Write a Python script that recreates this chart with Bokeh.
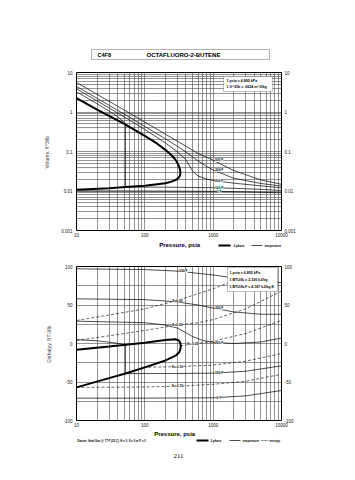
from bokeh.plotting import figure
from bokeh.layouts import column
from bokeh.models import FixedTicker, LogAxis, LinearAxis, Label, Range1d, BoxAnnotation
from bokeh.embed import file_html
from bokeh.resources import INLINE

# ---------------- data: top chart (volume vs pressure) ----------------
p_ticks = [10, 100, 1000, 10000]
p_tick_labels = ["10", "100", "1000", "10000"]
vol_ticks = [0.001, 0.01, 0.1, 1, 10]
vol_tick_labels = ["0.001", "0.01", "0.1", "1", "10"]

dome_v_p = [10, 20, 50, 100, 150, 200, 250, 280, 300, 318, 327, 331, 330, 326, 318, 305, 280, 240, 200, 100, 52, 30, 10]
dome_v_v = [2.25, 1.15, 0.50, 0.25, 0.16, 0.11, 0.078, 0.062, 0.051, 0.041, 0.035, 0.030, 0.027, 0.0245, 0.0225,
            0.0208, 0.0188, 0.0170, 0.0158, 0.0136, 0.0126, 0.0118, 0.0107]

iso_p = [10, 20, 50, 100, 200, 300, 400, 500, 600, 800, 1000, 2000, 5000, 10000]
t500_v = [5.6, 2.8, 1.12, 0.555, 0.275, 0.182, 0.136, 0.108, 0.089, 0.072, 0.060, 0.033, 0.019, 0.0148]
t300_v = [4.45, 2.22, 0.88, 0.43, 0.21, 0.135, 0.097, 0.073, 0.058, 0.042, 0.034, 0.021, 0.0155, 0.0133]
t200_v = [3.85, 1.91, 0.75, 0.36, 0.165, 0.098, 0.062, 0.032, 0.024, 0.020, 0.0185, 0.0158, 0.0135, 0.0120]
t100_p = [10, 20, 35, 52, 52, 200, 500, 1000, 2000, 5000, 10000]
t100_v = [3.25, 1.62, 0.90, 0.52, 0.0126, 0.0125, 0.0123, 0.0121, 0.0117, 0.0110, 0.0103]
t0_p = [10, 100, 1000, 3000, 10000]
t0_v = [0.0101, 0.0100, 0.0098, 0.0095, 0.0090]
top_iso_labels = ["500 F", "300 F", "200 F", "100 F", "0 F"]

# ---------------- data: bottom chart (enthalpy vs pressure) ----------------
h_ticks = [-100, -50, 0, 50, 100]
h_tick_labels = ["-100", "-50", "0", "50", "100"]

dome_h_p = [10, 30, 100, 200, 280, 315, 330, 335, 332, 320, 290, 250, 200, 100, 52, 30, 10]
dome_h_h = [-8, -4, 1, 4.5, 5.5, 4, 1, -3, -7, -11, -15, -18, -22, -31, -39, -45, -57]

h500_p = [10, 100, 300, 1000, 3000, 10000]
h500_h = [97, 96, 94, 89, 83, 79]
h300_p = [10, 100, 300, 600, 1000, 2000, 5000, 10000]
h300_h = [58, 57, 54, 50, 46, 41, 38, 38]
h200_p = [10, 100, 200, 300, 400, 500, 700, 1000, 2000, 5000, 10000]
h200_h = [29, 27, 24, 20, 14, 9, 4, 1.5, 0, 2, 7]
h100_p = [10, 20, 35, 52, 52, 300, 1000, 3000, 10000]
h100_h = [5, 3.5, 1, -1.5, -39, -39, -38.5, -36, -29]
h0_p = [10, 100, 1000, 3000, 10000]
h0_h = [-71, -71, -70.5, -68, -61]
bot_iso_labels = ["500 F", "300 F", "200 F", "100 F", "0 F"]

s005_p = [10, 30, 100, 300, 1000, 3000, 6000, 10000]
s005_h = [30, 37, 45, 56, 71, 88, 98, 107]
s000_p = [10, 30, 100, 300, 600, 1000, 3000, 10000]
s000_h = [4, 10, 17, 24, 27, 31, 45, 68]
sm005_p = [330, 500, 1000, 3000, 10000]
sm005_h = [-3, -1, 3, 13, 30]
sm010_p = [95, 300, 1000, 3000, 10000]
sm010_h = [-31, -30, -28, -23, -13]
sm015_p = [10, 100, 300, 1000, 3000, 10000]
sm015_h = [-57, -56.5, -55.5, -53, -49, -40]
s_labels = ["S=0.05", "S=0.00", "S=-0.05", "S=-0.10", "S=-0.15"]

# ---------------- styling helpers ----------------
FONT = "Liberation Sans"
GRID = "#4a4a4a"
W = 347
BL, BR = 76, 66          # left / right borders shared by every panel
FX0, FX1 = BL, W - BR    # frame extent in page pixels
xgrid_ticks = [m * 10 ** e for e in (1, 2, 3) for m in range(1, 10)] + [10000]
vgrid_ticks = [m * 10.0 ** e for e in (-3, -2, -1, 0) for m in range(1, 10)] + [10]
hgrid_ticks = [-75, -50, -25, 0, 25, 50, 75]


def style_axis(ax, ticks, labels, standoff=3):
    ax.ticker = FixedTicker(ticks=ticks)
    ax.major_label_overrides = dict(zip(ticks, labels))
    ax.major_label_text_font = FONT
    ax.major_label_text_font_size = "4.5px"
    ax.major_label_text_color = "#222222"
    ax.major_label_standoff = standoff
    ax.major_tick_line_color = None
    ax.major_tick_out = 0
    ax.major_tick_in = 0
    ax.minor_tick_line_color = None
    ax.minor_tick_out = 0
    ax.axis_line_color = None


def make_fig(height, y_type, y_range, mb_top, mb_bottom):
    p = figure(width=W, height=height, x_axis_type="log", y_axis_type=y_type,
               x_range=Range1d(10, 10000), y_range=y_range,
               output_backend="svg", toolbar_location=None,
               min_border_left=BL, min_border_right=BR,
               min_border_top=mb_top, min_border_bottom=mb_bottom)
    p.outline_line_color = "black"
    p.outline_line_width = 1
    p.background_fill_color = "white"
    p.border_fill_color = "white"
    p.xgrid.ticker = FixedTicker(ticks=xgrid_ticks)
    p.xgrid.grid_line_color = GRID
    p.xgrid.grid_line_width = 0.6
    p.ygrid.grid_line_color = GRID
    p.ygrid.grid_line_width = 0.6
    return p


def strip(height):
    # x data == page pixel column, y data == pixels from the strip bottom
    s = figure(width=W, height=height, x_range=Range1d(FX0, FX1), y_range=Range1d(0, height),
               output_backend="svg", toolbar_location=None,
               min_border_left=BL, min_border_right=BR, min_border_top=0, min_border_bottom=0)
    s.axis.visible = False
    s.grid.visible = False
    s.outline_line_color = None
    s.background_fill_color = "white"
    s.border_fill_color = "white"
    return s


def text(p, x, y, s, size="3.6px", bold=False, align="left", baseline="middle", units="data",
         bg=None, font=FONT, xo=0, yo=0):
    lab = Label(x=x, y=y, x_units=units, y_units=units, text=s, text_font=font,
                text_font_size=size, text_font_style="bold" if bold else "normal",
                text_align=align, text_baseline=baseline, text_color="black",
                x_offset=xo, y_offset=yo)
    if bg:
        lab.background_fill_color = bg
    p.add_layout(lab)


def box(p, l, r, b, t, units="data", lw=0.8):
    p.add_layout(BoxAnnotation(left=l, right=r, bottom=b, top=t,
                               left_units=units, right_units=units, top_units=units, bottom_units=units,
                               fill_color="white", fill_alpha=1, line_color="black", line_width=lw))


# ---------------- header strip (title box) ----------------
head = strip(64)
box(head, 91, 269, 5, 15, lw=1)
text(head, 97, 10, "C4F8", size="5.5px", bold=True)
text(head, 183, 10, "OCTAFLUORO-2-BUTENE", size="6px", bold=True, align="center")

# ---------------- top figure ----------------
top = make_fig(175, "log", Range1d(0.001, 10), 8, 8)
top.ygrid.ticker = FixedTicker(ticks=vgrid_ticks)
style_axis(top.xaxis[0], p_ticks, p_tick_labels, 2)
style_axis(top.yaxis[0], vol_ticks, vol_tick_labels, 4)
ra = LogAxis()
style_axis(ra, vol_ticks, vol_tick_labels, 3)
top.add_layout(ra, "right")
top.yaxis[0].axis_label = "Volume,  ft^3/lb"
top.yaxis[0].axis_label_text_font = FONT
top.yaxis[0].axis_label_text_font_size = "5px"
top.yaxis[0].axis_label_text_font_style = "normal"
top.yaxis[0].axis_label_standoff = 8

for vv, pp in [(t500_v, iso_p), (t300_v, iso_p), (t200_v, iso_p), (t100_v, t100_p), (t0_v, t0_p)]:
    top.line(pp, vv, line_color="black", line_width=0.7)
top.line(dome_v_p, dome_v_v, line_color="black", line_width=2.0)

for lab, vv, pp in zip(top_iso_labels, [t500_v, t300_v, t200_v, t100_v, t0_v],
                       [iso_p, iso_p, iso_p, t100_p, t0_p]):
    i = pp.index(1000)
    text(top, pp[i], vv[i], lab, size="3.2px", bold=True, align="center", bg="white", xo=6)

# conversion box (inside the frame, frame-relative pixels)
box(top, 147, 196, 139, 154, units="screen")
text(top, 150, 150, "1 psia = 6.895 kPa", size="3.6px", bold=True, units="screen")
text(top, 150, 144, "1 ft^3/lb = .0624 m^3/kg", size="3.6px", bold=True, units="screen")

# ---------------- strip under top chart (axis title + legend) ----------------
mid = strip(18)
text(mid, 180, 13, "Pressure,  psia", size="6px", bold=True, align="center")
mid.line([218, 230], [12, 12], line_color="black", line_width=1.8)
text(mid, 233, 12, "2-phase", size="2.9px", bold=True)
mid.line([251, 262], [12, 12], line_color="black", line_width=0.7)
text(mid, 264, 12, "temperature", size="2.9px", bold=True)

# ---------------- bottom figure ----------------
bot = make_fig(172, "linear", Range1d(-100, 100), 9, 8)
bot.ygrid.ticker = FixedTicker(ticks=hgrid_ticks)
style_axis(bot.xaxis[0], p_ticks, p_tick_labels, 2)
style_axis(bot.yaxis[0], h_ticks, h_tick_labels, 4)
rb = LinearAxis()
style_axis(rb, h_ticks, h_tick_labels, 3)
bot.add_layout(rb, "right")
bot.yaxis[0].axis_label = "Enthalpy,  BTU/lb"
bot.yaxis[0].axis_label_text_font = FONT
bot.yaxis[0].axis_label_text_font_size = "5px"
bot.yaxis[0].axis_label_text_font_style = "normal"
bot.yaxis[0].axis_label_standoff = 8

for pp, hh in [(s005_p, s005_h), (s000_p, s000_h), (sm005_p, sm005_h), (sm010_p, sm010_h), (sm015_p, sm015_h)]:
    bot.line(pp, hh, line_color="black", line_width=0.6, line_dash="3 2")
for pp, hh in [(h500_p, h500_h), (h300_p, h300_h), (h200_p, h200_h), (h100_p, h100_h), (h0_p, h0_h)]:
    bot.line(pp, hh, line_color="black", line_width=0.7)
bot.line(dome_h_p, dome_h_h, line_color="black", line_width=2.0)

for lab, pp, hh, at in zip(bot_iso_labels, [h500_p, h300_p, h200_p, h100_p, h0_p],
                           [h500_h, h300_h, h200_h, h100_h, h0_h], [300, 1000, 1000, 1000, 1000]):
    i = pp.index(at)
    text(bot, pp[i], hh[i], lab, size="3.2px", bold=True, align="center", bg="white", xo=6)
for lab, pp, hh, at in zip(s_labels, [s005_p, s000_p, sm005_p, sm010_p, sm015_p],
                           [s005_h, s000_h, sm005_h, sm010_h, sm015_h], [300, 300, 500, 300, 300]):
    i = pp.index(at)
    text(bot, pp[i], hh[i], lab, size="3.2px", bold=True, align="center", bg="white")

box(bot, 151, 201, 129, 153, units="screen")
text(bot, 153, 148, "1 psia = 6.895 kPa", size="3.6px", bold=True, units="screen")
text(bot, 153, 141, "1 BTU/lb = 2.326 kJ/kg", size="3.6px", bold=True, units="screen")
text(bot, 153, 134, "1 BTU/lb.F = 4.187 kJ/kg.K", size="3.6px", bold=True, units="screen")

# ---------------- footer strip ----------------
foot = strip(41)
text(foot, 175, 37, "Pressure,  psia", size="6px", bold=True, align="center")
text(foot, 77, 30, "Datum: Ideal Gas @ 77 F (25 C), H = 0, S = 0 at P = 0", size="2.8px", bold=True)
foot.line([196, 208], [30, 30], line_color="black", line_width=1.8)
text(foot, 210, 30, "2-phase", size="2.9px", bold=True)
foot.line([229, 240], [30, 30], line_color="black", line_width=0.7)
text(foot, 242, 30, "temperature", size="2.9px", bold=True)
foot.line([261, 268], [30, 30], line_color="black", line_width=0.6, line_dash="2 1")
text(foot, 269, 30, "entropy", size="2.9px", bold=True)
text(foot, 178, 15, "211", size="7px", align="center", font="Liberation Serif")

layout = column(head, top, mid, bot, foot, spacing=0)
open("out.html", "w").write(file_html(layout, INLINE))
